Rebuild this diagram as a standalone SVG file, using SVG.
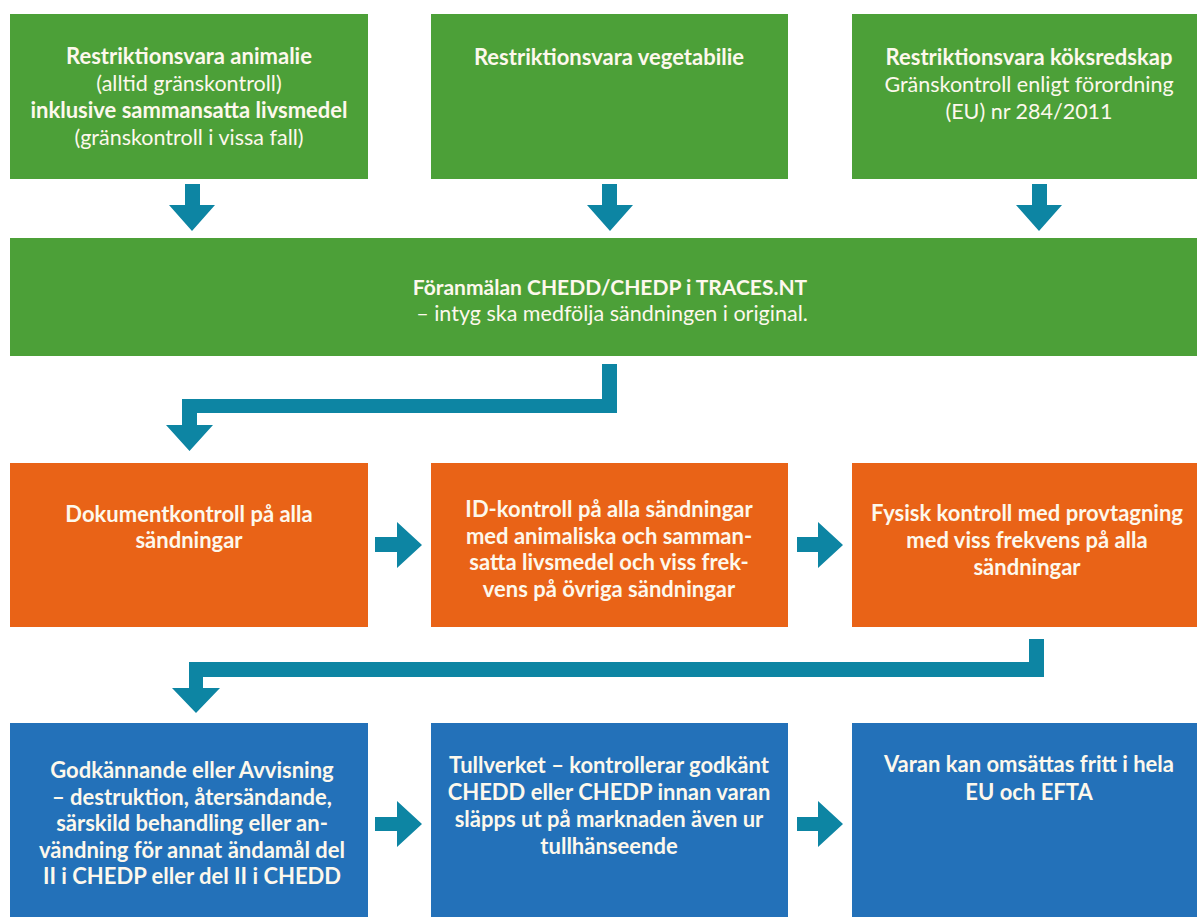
<svg xmlns="http://www.w3.org/2000/svg" width="1197" height="917" viewBox="0 0 1197 917">
<style>
.g{fill:#4ca038}.o{fill:#e96317}.b{fill:#2371b9}
.c{fill:#0d85a3}
text{font-family:Lato,"Liberation Sans",sans-serif;font-weight:700;font-size:22px;fill:#fdf8ec;text-anchor:middle}
.r{font-weight:400;font-size:21.5px}
</style>
<rect width="1197" height="917" fill="#ffffff"/>
<g id="n1"><rect class="g" x="10" y="14" width="358" height="165"/>
<text x="189" y="64">Restriktionsvara animalie</text>
<text x="189" y="91" class="r">(alltid gränskontroll)</text>
<text x="189" y="118">inklusive sammansatta livsmedel</text>
<text x="189" y="145" class="r">(gränskontroll i vissa fall)</text></g>
<g id="n2"><rect class="g" x="431" y="14" width="357" height="165"/>
<text x="609" y="65">Restriktionsvara vegetabilie</text></g>
<g id="n3"><rect class="g" x="852" y="14" width="345" height="165"/>
<text x="1029" y="65">Restriktionsvara köksredskap</text>
<text x="1029" y="92" class="r">Gränskontroll enligt förordning</text>
<text x="1029" y="119" class="r">(EU) nr 284/2011</text></g>
<g id="n4"><rect class="g" x="10" y="238" width="1187" height="118"/>
<text x="610" y="295" style="font-size:21px">Föranmälan CHEDD/CHEDP i TRACES.NT</text>
<text x="612" y="321" class="r">– intyg ska medfölja sändningen i original.</text></g>
<g id="n5"><rect class="o" x="10" y="463" width="358" height="164"/>
<text x="189" y="522">Dokumentkontroll på alla</text>
<text x="189" y="548">sändningar</text></g>
<g id="n6"><rect class="o" x="431" y="463" width="357" height="164"/>
<text x="609" y="517">ID-kontroll på alla sändningar</text>
<text x="609" y="543.5">med animaliska och samman-</text>
<text x="609" y="570">satta livsmedel och viss frek-</text>
<text x="609" y="596.5">vens på övriga sändningar</text></g>
<g id="n7"><rect class="o" x="852" y="463" width="345" height="164"/>
<text x="1027" y="521">Fysisk kontroll med provtagning</text>
<text x="1027" y="548">med viss frekvens på alla</text>
<text x="1027" y="575">sändningar</text></g>
<g id="n8"><rect class="b" x="10" y="723" width="358" height="194"/>
<text x="192" y="778">Godkännande eller Avvisning</text>
<text x="192" y="804.5">– destruktion, återsändande,</text>
<text x="192" y="831">särskild behandling eller an-</text>
<text x="192" y="857.5">vändning för annat ändamål del</text>
<text x="192" y="884">II i CHEDP eller del II i CHEDD</text></g>
<g id="n9"><rect class="b" x="431" y="723" width="357" height="194"/>
<text x="609" y="773">Tullverket – kontrollerar godkänt</text>
<text x="609" y="800">CHEDD eller CHEDP innan varan</text>
<text x="609" y="827">släpps ut på marknaden även ur</text>
<text x="609" y="854">tullhänseende</text></g>
<g id="n10"><rect class="b" x="852" y="723" width="345" height="194"/>
<text x="1029" y="772">Varan kan omsättas fritt i hela</text>
<text x="1029" y="800">EU och EFTA</text></g>
<g id="connectors">
<polygon class="c" points="185,184 200,184 200,205 215,205 192,231 169,205 185,205"/>
<polygon class="c" points="602,184 617,184 617,205 633,205 610,231 587,205 602,205"/>
<polygon class="c" points="1032,184 1047,184 1047,205 1062,205 1039,231 1016,205 1032,205"/>
<polygon class="c" points="602,364 617,364 617,413 197,413 197,425 213,425 189.5,451 166,425 182,425 182,399 602,399"/>
<polygon class="c" points="375,537 397,537 397,522 422,545 397,568 397,552 375,552"/>
<polygon class="c" points="797,537 818,537 818,522 843,545 818,568 818,552 797,552"/>
<polygon class="c" points="1029,639 1044,639 1044,677 203,677 203,688 220,688 196,713 172,688 189,688 189,662 1029,662"/>
<polygon class="c" points="375,817 397,817 397,801 422,824 397,847 397,831 375,831"/>
<polygon class="c" points="797,817 818,817 818,801 843,824 818,847 818,831 797,831"/>
</g>
</svg>
